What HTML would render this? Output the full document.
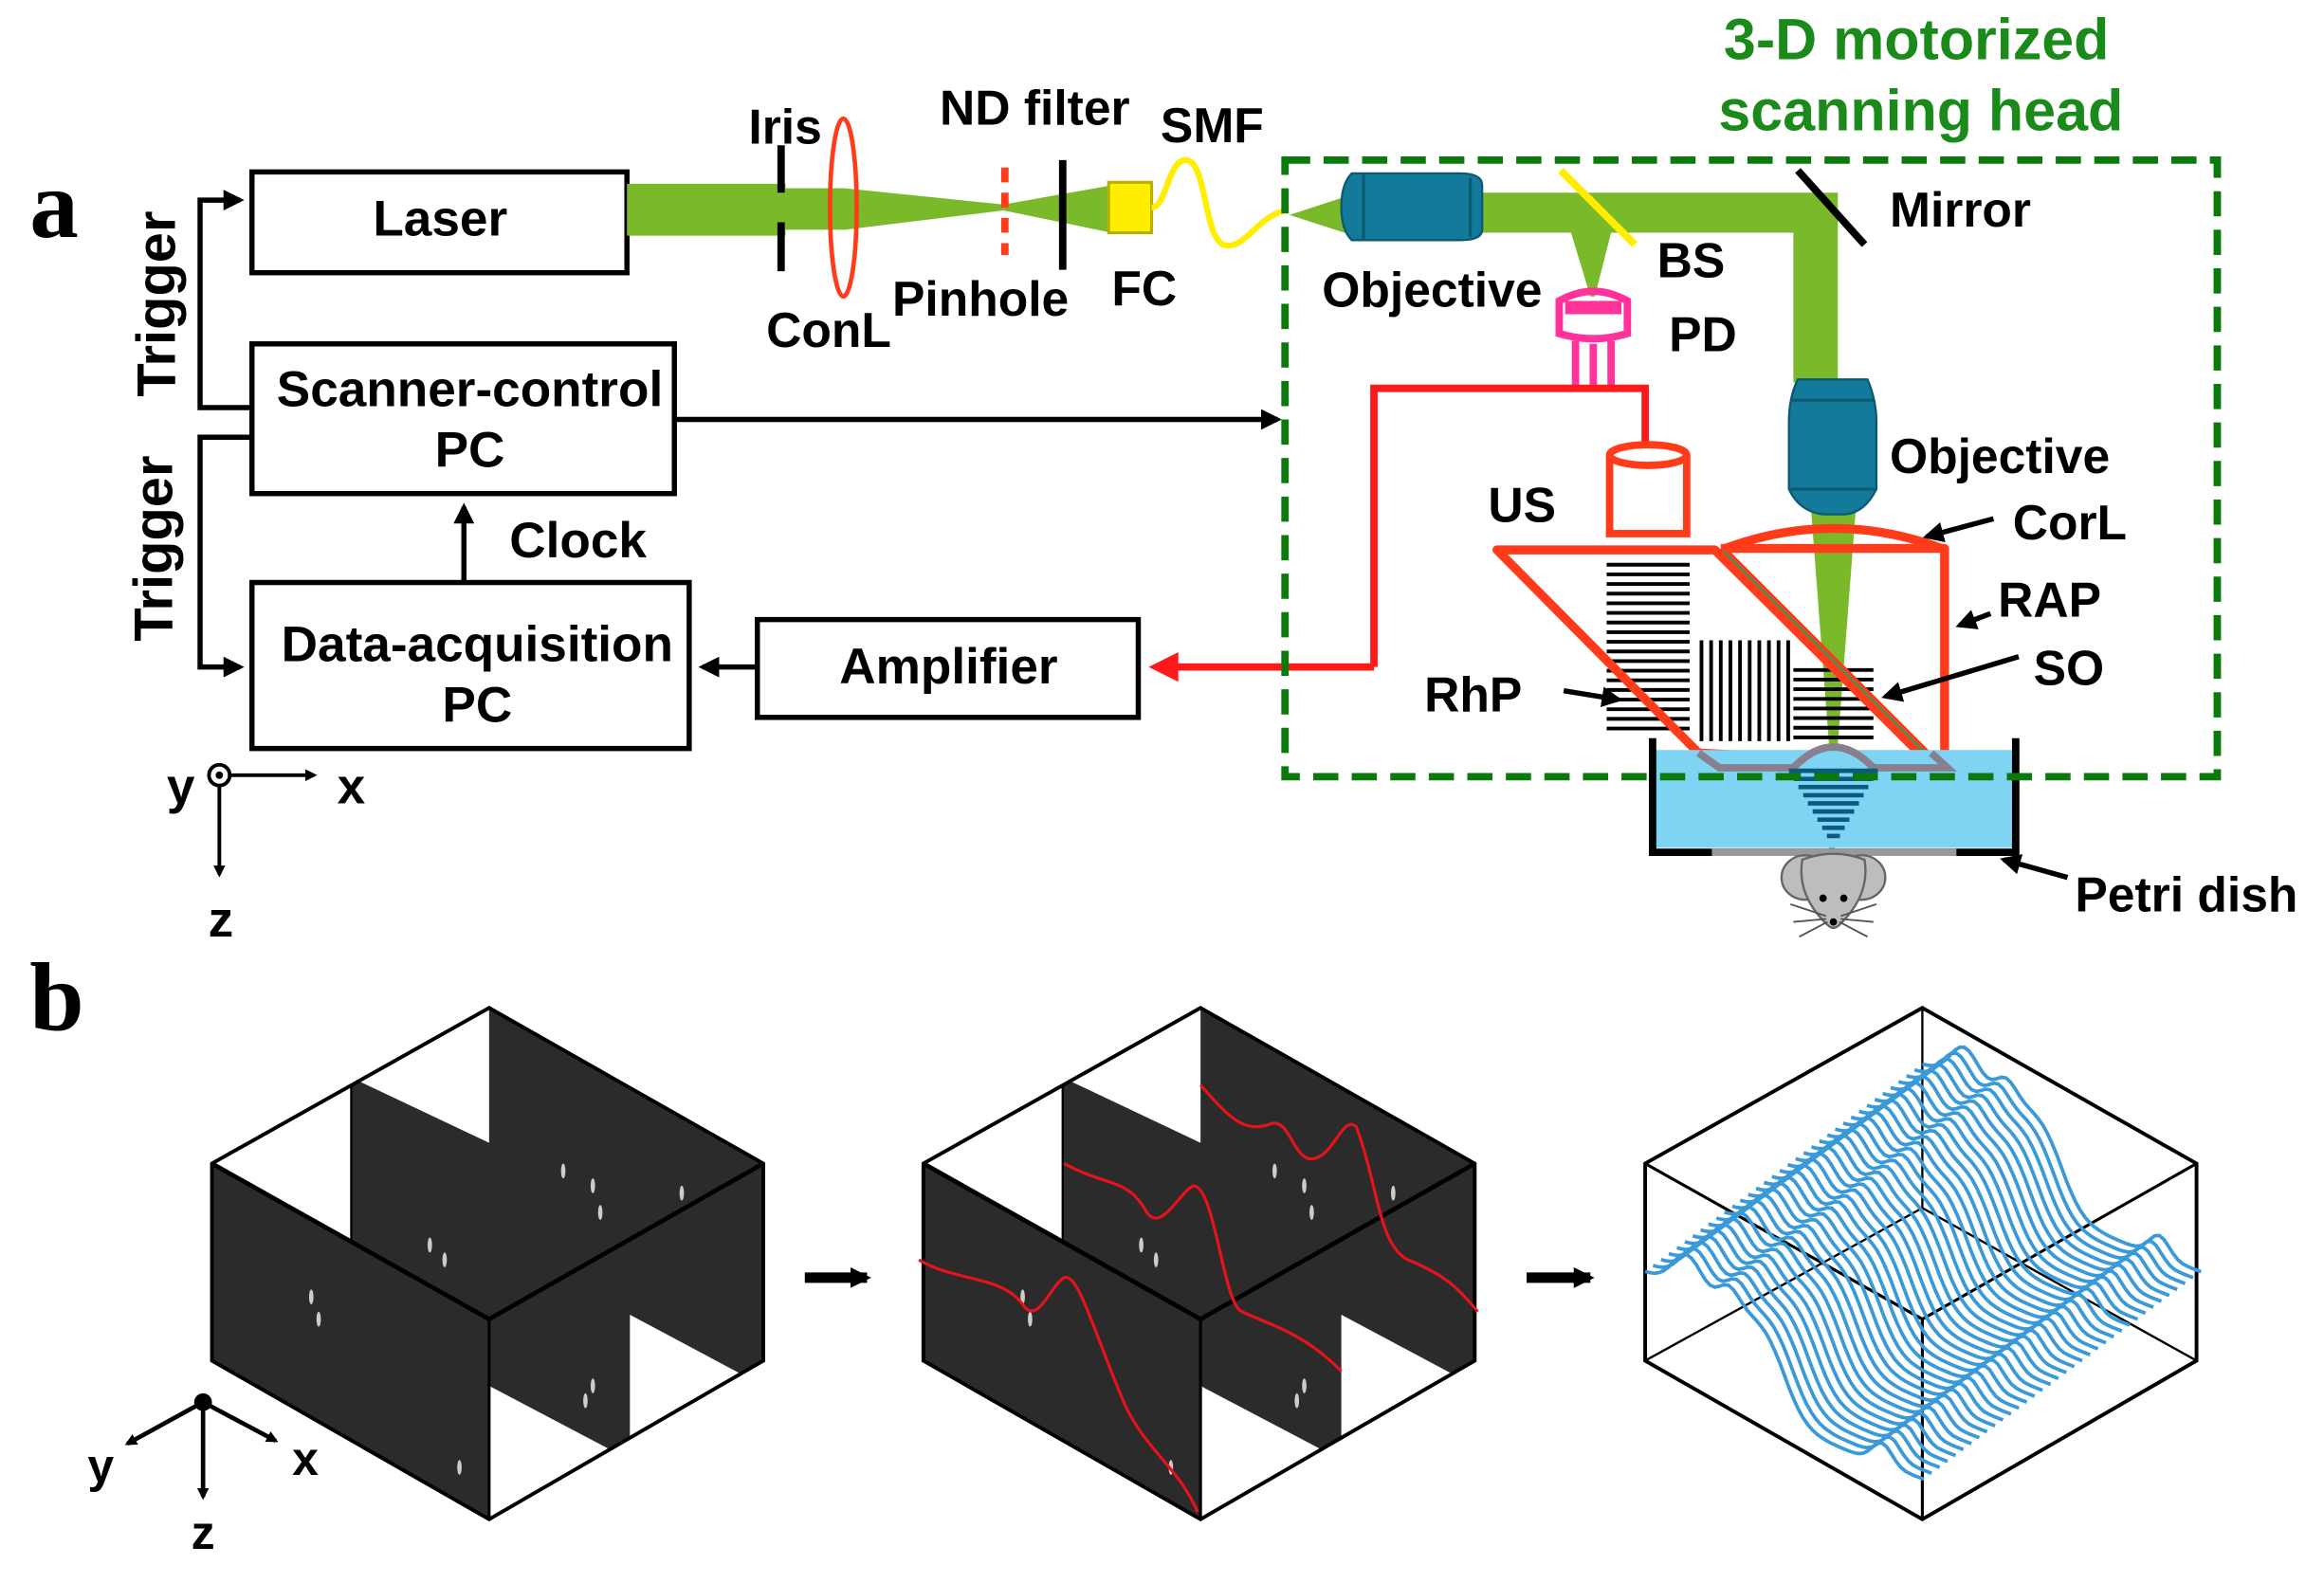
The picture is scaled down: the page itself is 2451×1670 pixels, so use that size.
<!DOCTYPE html>
<html><head><meta charset="utf-8"><style>
html,body{margin:0;padding:0;background:#fff}
svg{display:block}
text{font-family:"Liberation Sans",Arial,sans-serif;font-weight:bold}
</style></head><body>
<svg id="s" width="2451" height="1670" viewBox="0 0 1568 1068" preserveAspectRatio="none" xmlns="http://www.w3.org/2000/svg">
<defs>
<marker id="ab" markerWidth="8" markerHeight="8" refX="6" refY="4" orient="auto" markerUnits="userSpaceOnUse"><path d="M0,0 L8,4 L0,8 z" fill="#000"/></marker>
<marker id="ab2" viewBox="0 0 10 10" markerWidth="14" markerHeight="14" refX="8" refY="5" orient="auto" markerUnits="userSpaceOnUse"><path d="M0,0 L10,5 L0,10 z" fill="#000"/></marker>
</defs>
<rect width="1568" height="1068" fill="#fff"/>
<text x="20" y="160" font-size="66" style="font-family:'Liberation Serif',serif">a</text>
<text x="20" y="695" font-size="66" style="font-family:'Liberation Serif',serif">b</text>

<g fill="none" stroke="#000" stroke-width="3.5">
<rect x="170" y="116" width="253" height="68"/>
<rect x="170" y="232" width="285" height="101"/>
<rect x="170" y="393" width="295" height="112"/>
<rect x="511" y="418" width="257" height="66"/>
</g>
<g font-size="34" text-anchor="middle">
<text x="297" y="159">Laser</text>
<text x="317" y="274">Scanner-control</text>
<text x="317" y="315">PC</text>
<text x="322" y="446">Data-acquisition</text>
<text x="322" y="487">PC</text>
<text x="640" y="461">Amplifier</text>
<text x="390" y="376">Clock</text>
<text transform="translate(118,205) rotate(-90)" font-size="37">Trigger</text>
<text transform="translate(116,370) rotate(-90)" font-size="37">Trigger</text>
</g>
<g fill="none" stroke="#000" stroke-width="3.5">
<path d="M170,275 H135 V135 H162" marker-end="url(#ab2)"/>
<path d="M170,295 H135 V450 H162" marker-end="url(#ab2)"/>
<path d="M313,393 V342" marker-end="url(#ab2)"/>
<path d="M455,283 H862" marker-end="url(#ab2)"/>
<path d="M511,450 H474" marker-end="url(#ab2)"/>
</g>
<g stroke="#000" stroke-width="2.5" fill="none">
<circle cx="148" cy="523" r="7"/>
<path d="M155,523 H212" marker-end="url(#ab)"/>
<path d="M148,530 V590" marker-end="url(#ab)"/>
</g>
<circle cx="148" cy="523" r="2.5" fill="#000"/>
<g font-size="34" text-anchor="middle"><text x="122" y="542">y</text><text x="237" y="542">x</text><text x="149" y="632">z</text></g>

<g fill="#7ab929">
<rect x="423" y="124" width="107" height="35"/>
<polygon points="530,127 570,127 677,138 677,142 570,155 530,155"/>
<polygon points="677,138 750,125 750,157 677,142"/>
<polygon points="870,145 910,132 910,158"/>
<path d="M1000,130 H1240 V258 H1210 V157 H1000 Z"/>
<polygon points="1060,157 1087,157 1076,200 1073,200"/>
<polygon points="1222,345 1252,345 1239,515 1235,515"/>
</g>
<rect x="1234" y="505" width="4" height="95" fill="#3cb371"/>
<g stroke="#000" stroke-width="5"><line x1="527" y1="98" x2="527" y2="130"/><line x1="527" y1="150" x2="527" y2="183"/><line x1="717" y1="108" x2="717" y2="182"/></g>
<ellipse cx="569" cy="140" rx="9" ry="60" fill="none" stroke="#ff3b1a" stroke-width="3"/>
<line x1="678" y1="113" x2="678" y2="172" stroke="#ff3b1a" stroke-width="5" stroke-dasharray="10,7"/>
<rect x="748" y="123" width="29" height="34" fill="#ffee00" stroke="#b8b000" stroke-width="2"/>
<path d="M777,140 C787,140 788,108 800,108 C814,108 812,158 825,165 C840,170 848,145 868,142" fill="none" stroke="#ffee00" stroke-width="4"/>
<g fill="#137a9b" stroke="#0b5a72" stroke-width="1.5">
<path d="M912,117 H985 Q1000,117 1000,125 V155 Q1000,162 985,162 H912 Q905,155 905,140 Q905,124 912,117 Z"/>
<path d="M1213,256 H1260 Q1266,270 1266,285 V330 Q1258,346 1245,347 H1230 Q1214,345 1207,330 V285 Q1207,268 1213,256 Z"/>
</g>
<g stroke="#0b5a72" stroke-width="2"><line x1="920" y1="117" x2="920" y2="162"/><line x1="992" y1="120" x2="992" y2="160"/><line x1="1208" y1="270" x2="1265" y2="270"/><line x1="1208" y1="330" x2="1265" y2="330"/></g>
<line x1="1053" y1="115" x2="1103" y2="165" stroke="#ffee00" stroke-width="5"/>
<line x1="1213" y1="115" x2="1258" y2="165" stroke="#000" stroke-width="5"/>
<g fill="none" stroke="#ff3399" stroke-width="5">
<path d="M1052,203 Q1075,190 1098,203 V225 Q1075,232 1052,225 Z"/>
<line x1="1063" y1="230" x2="1063" y2="262"/><line x1="1075" y1="232" x2="1075" y2="264"/><line x1="1087" y1="230" x2="1087" y2="262"/>
</g>
<rect x="1056" y="203" width="38" height="9" fill="#ff3399"/>
<path d="M927,450 V262 H1110 V300" fill="none" stroke="#ff1a1a" stroke-width="5"/>
<path d="M927,450 H790" fill="none" stroke="#ff1a1a" stroke-width="5"/>
<polygon points="775,450 795,440 795,460" fill="#ff1a1a"/>
<g fill="none" stroke="#ff3b1a" stroke-width="5">
<ellipse cx="1112" cy="307" rx="26" ry="7"/>
<path d="M1086,307 V360 H1138 V307"/>
</g>
<g id="stripes" stroke="#000" stroke-width="2.5"></g>
<g fill="none" stroke="#ff3b1a" stroke-width="6" stroke-linejoin="round">
<polygon points="1010,371 1157,371 1303,516 1146,508"/>
<path d="M1161,370 H1312 V516"/>
<line x1="1161" y1="370" x2="1307" y2="516"/>
<path d="M1164,370 Q1237,343 1310,370"/>
</g>
<line x1="1163" y1="372" x2="1307" y2="516" stroke="#2e9e5e" stroke-width="1.5"/>
<rect x="1116" y="506" width="244" height="66" fill="#7fd4f4"/>
<path d="M1146,508 L1160,518 H1210 Q1237,490 1264,518 H1314 L1303,508" fill="none" stroke="#888090" stroke-width="5"/>
<g id="cone" stroke="#0d5a80" stroke-width="3"></g>
<path d="M1115,498 V575 H1360 V498" fill="none" stroke="#000" stroke-width="5"/>
<line x1="1155" y1="575" x2="1320" y2="575" stroke="#999" stroke-width="5"/>
<g fill="#bdbdbd" stroke="#666" stroke-width="1.5">
<ellipse cx="1218" cy="592" rx="16" ry="15"/><ellipse cx="1256" cy="592" rx="16" ry="15"/>
<path d="M1216,580 Q1237,572 1258,580 Q1262,604 1241,624 Q1237,628 1233,624 Q1212,604 1216,580Z"/>
</g>
<circle cx="1230" cy="606" r="2.5" fill="#000"/><circle cx="1244" cy="606" r="2.5" fill="#000"/><circle cx="1237" cy="622" r="2.5" fill="#000"/>
<g stroke="#555" stroke-width="1.2"><path d="M1232,618 L1208,610 M1232,620 L1210,622 M1233,622 L1214,632 M1242,618 L1266,610 M1242,620 L1264,622 M1241,622 L1260,632"/></g>
<path d="M867,108 H1496 V524 H867 Z" fill="none" stroke="#0a7a0a" stroke-width="5" stroke-dasharray="17,9"/>
<g fill="#1a8a1a" font-size="39" text-anchor="middle"><text x="1293" y="40">3-D motorized</text><text x="1296" y="88">scanning head</text></g>
<g font-size="33">
<text x="505" y="97">Iris</text>
<text x="634" y="84">ND filter</text>
<text x="783" y="96">SMF</text>
<text x="517" y="234">ConL</text>
<text x="602" y="213">Pinhole</text>
<text x="750" y="206">FC</text>
<text x="892" y="207">Objective</text>
<text x="1118" y="187">BS</text>
<text x="1126" y="237">PD</text>
<text x="1275" y="153">Mirror</text>
<text x="1275" y="319">Objective</text>
<text x="1004" y="352">US</text>
<text x="1358" y="364">CorL</text>
<text x="1348" y="416">RAP</text>
<text x="1372" y="462">SO</text>
<text x="961" y="480">RhP</text>
<text x="1400" y="615">Petri dish</text>
</g>
<g stroke="#000" stroke-width="3.5" fill="none">
<path d="M1345,350 L1300,362" marker-end="url(#ab2)"/>
<path d="M1343,414 L1322,422" marker-end="url(#ab2)"/>
<path d="M1362,443 L1272,470" marker-end="url(#ab2)"/>
<path d="M1055,466 L1092,472" marker-end="url(#ab2)"/>
<path d="M1395,592 L1352,580" marker-end="url(#ab2)"/>
</g>

<g id="cubes"></g>
<g stroke="#000" stroke-width="7" fill="none">
<path d="M543,862 H585" marker-end="url(#ab2)"/>
<path d="M1030,862 H1073" marker-end="url(#ab2)"/>
</g>
<g stroke="#000" stroke-width="3" fill="none">
<path d="M137,946 L86,974" marker-end="url(#ab)"/>
<path d="M137,946 L186,972" marker-end="url(#ab)"/>
<path d="M137,946 V1010" marker-end="url(#ab)"/>
</g>
<circle cx="137" cy="946" r="6" fill="#000"/>
<g font-size="32" text-anchor="middle"><text x="68" y="1000">y</text><text x="206" y="995">x</text><text x="137" y="1045">z</text></g>
</svg>
<script>
var NS="http://www.w3.org/2000/svg";
function el(p,t,a){var e=document.createElementNS(NS,t);for(var k in a)e.setAttribute(k,a[k]);p.appendChild(e);return e;}
var st=document.getElementById("stripes");
for(var y=381;y<498;y+=6.5)el(st,"line",{x1:1084,y1:y,x2:1140,y2:y});
for(var x=1148;x<1208;x+=6.5)el(st,"line",{x1:x,y1:432,x2:x,y2:500});
for(var y=452;y<503;y+=6.5)el(st,"line",{x1:1210,y1:y,x2:1264,y2:y});
var cn=document.getElementById("cone");
for(var i=0;i<9;i++){var y=520+i*5.5,w=30-i*3.2;el(cn,"line",{x1:1237-w,y1:y,x2:1237+w,y2:y});}
var cg=document.getElementById("cubes");
function cube(ox,kind){
 function P(a){return a.map(function(p){return (p[0]+ox)+","+p[1];}).join(" ");}
 if(kind<2){
  el(cg,"polygon",{points:P([[143,785],[330,680],[515,785],[515,918],[330,1025],[143,918]]),fill:"#2b2b2b"});
  el(cg,"polygon",{points:P([[143,785],[237,732],[237,838]]),fill:"#fff"});
  el(cg,"polygon",{points:P([[237,727],[330,678],[330,771]]),fill:"#fff"});
  el(cg,"polygon",{points:P([[425,887],[515,935],[330,1027],[330,935],[425,985]]),fill:"#fff"});
  var pts=[[210,875],[215,890],[290,840],[300,850],[380,790],[400,800],[405,818],[460,805],[400,935],[395,945],[310,990]];
  pts.forEach(function(p){el(cg,"ellipse",{cx:p[0]+ox,cy:p[1],rx:1.5,ry:5,fill:"#ccc"});});
  el(cg,"polyline",{points:P([[237,732],[237,838]]),stroke:"#000","stroke-width":1.5,fill:"none"});
 }
 el(cg,"polygon",{points:P([[143,785],[330,680],[515,785],[515,918],[330,1025],[143,918]]),fill:"none",stroke:"#000","stroke-width":2.5});
 el(cg,"polyline",{points:P([[143,785],[330,890],[515,785]]),fill:"none",stroke:"#000","stroke-width":kind<2?3:2});
 el(cg,"polyline",{points:P([[330,890],[330,1025]]),fill:"none",stroke:"#000","stroke-width":2});
 if(kind==2){
  el(cg,"polyline",{points:P([[330,680],[330,815]]),fill:"none",stroke:"#000","stroke-width":1.5});
  el(cg,"polyline",{points:P([[143,918],[330,815],[515,918]]),fill:"none",stroke:"#000","stroke-width":1.5});
  var g=el(cg,"g",{fill:"none",stroke:"#3a9ad9","stroke-width":2.4});
  for(var j=0;j<36;j++){
   var v=j/35,sx=1110+v*187,sy=858-v*140,d="";
   for(var k=0;k<=60;k++){var u=k/60;
    var z=22*Math.exp(-Math.pow((u-0.15)/0.07,2))+12*Math.exp(-Math.pow((u-0.3)/0.05,2))+70/(1+Math.exp((u-0.5)/0.04))+14*Math.exp(-Math.pow((u-0.85)/0.05,2));
    var X=sx+u*188,Y=sy+u*70+70-z;
    d+=(k?"L":"M")+X.toFixed(1)+","+Y.toFixed(1);}
   el(g,"path",{d:d});
  }
 }
}
cube(0,0);cube(480,1);cube(967,2);
var r=el(cg,"g",{fill:"none",stroke:"#e8121a","stroke-width":2});
el(r,"path",{d:"M620,850 C645,865 675,860 690,880 C700,895 708,868 718,862 C728,858 740,905 760,950 C775,980 795,990 808,1020"});
el(r,"path",{d:"M718,785 C745,800 760,795 772,815 C782,835 795,805 805,800 C820,800 825,880 838,885 C860,895 880,900 905,925"});
el(r,"path",{d:"M810,732 C830,755 840,765 858,758 C870,755 872,780 884,782 C900,782 905,752 915,760 C930,800 930,840 950,850 C975,860 985,870 997,885"});
</script>
</body></html>
